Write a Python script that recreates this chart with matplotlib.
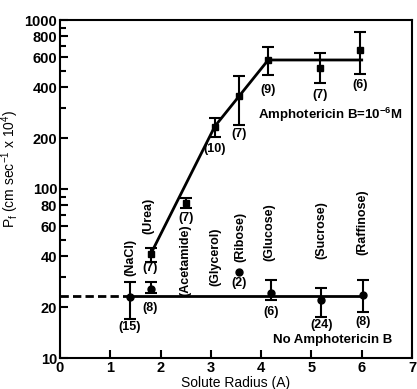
import numpy as np
import matplotlib
import matplotlib.pyplot as plt

matplotlib.rcParams['font.family'] = ['Liberation Sans', 'DejaVu Sans']
matplotlib.rcParams['font.weight'] = 'bold'
matplotlib.rcParams['font.size'] = 10
matplotlib.rcParams['mathtext.default'] = 'regular'

# ---------------- data ----------------
# Amphotericin B = 1e-6 M (squares)
amphX = [1.8, 2.5, 3.08, 3.56, 4.14, 5.17, 5.96]
amphY = [41, 83, 233, 355, 580, 520, 664]
amphLo = [37, 77, 203, 240, 473, 424, 479]
amphHi = [45, 89, 264, 467, 692, 638, 849]
amphN = ['(7)', '(7)', '(10)', '(7)', '(9)', '(7)', '(6)']
amphNY = [34, 67, 172, 213, 385, 358, 410]

# fitted curve through the amphotericin data
fitX = [1.8, 3.08, 4.14, 6.0]
fitY = [41, 235, 580, 580]

# no amphotericin (circles)
noneX = [1.39, 1.8, 4.2, 5.2, 6.02]
noneY = [23, 25.6, 24.3, 22, 23.6]
noneLo = [17, 24.3, 22, 17.5, 18.7]
noneHi = [28, 28, 28.9, 26, 28.9]
noneN = ['(15)', '(8)', '(6)', '(24)', '(8)']
noneNY = [15.2, 19.8, 18.7, 15.7, 16.3]

riboseX, riboseY = 3.56, 32.3
baseY = 23.2

# solute names
solutes = ['(NaCl)', '(Urea)', '(Acetamide)', '(Glycerol)', '(Ribose)',
           '(Glucose)', '(Sucrose)', '(Raffinose)']
soluteX = [1.4, 1.75, 2.49, 3.08, 3.58, 4.17, 5.2, 6.02]
soluteY = [39.5, 69, 38, 39.5, 52, 55.6, 57, 64]

# ---------------- plot ----------------
fig = plt.figure(figsize=(4.17, 3.89), dpi=100)
ax = fig.add_axes([60/417, 1-358/389, 352/417, 338/389])

k = 'black'
fs = 9
ax.plot(fitX, fitY, color=k, lw=2)
ax.errorbar(amphX, amphY,
            yerr=[np.subtract(amphY, amphLo), np.subtract(amphHi, amphY)],
            fmt='s', color=k, ms=5, capsize=4, elinewidth=1.5, capthick=1.5)

ax.plot([noneX[0], noneX[-1]], [baseY, baseY], color=k, lw=2)
ax.plot([0, noneX[0]], [baseY, baseY], color=k, lw=2, ls=(0, (3, 1.5)))
ax.errorbar(noneX, noneY,
            yerr=[np.subtract(noneY, noneLo), np.subtract(noneHi, noneY)],
            fmt='o', color=k, ms=5, capsize=4, elinewidth=1.5, capthick=1.5)
ax.plot(riboseX, riboseY, 'o', color=k, ms=5)
ax.text(riboseX, 27.8, '(2)', ha='center', va='center', fontsize=fs)

for x, y, s in zip(amphX, amphNY, amphN):
    ax.text(x, y, s, ha='center', va='center', fontsize=fs)
for x, y, s in zip(noneX, noneNY, noneN):
    ax.text(x, y, s, ha='center', va='center', fontsize=fs)
for x, y, s in zip(soluteX, soluteY, solutes):
    ax.text(x, y, s, ha='center', va='center', rotation=90, fontsize=fs)

ax.text(3.94, 275, 'Amphotericin B=10$^{-6}$M', ha='left', va='center', fontsize=9.5)
ax.text(4.23, 12.8, 'No Amphotericin B', ha='left', va='center', fontsize=9.5)

# graphic settings
ax.set_yscale('log')
ax.set_xlim(0, 7)
ax.set_ylim(10, 1000)
ax.set_xticks(range(8))
ax.set_xticklabels([str(i) for i in range(8)])
major = [10, 20, 40, 60, 80, 100, 200, 400, 600, 800, 1000]
ax.set_yticks(major)
ax.set_yticklabels([str(v) for v in major])
ax.set_yticks([30, 50, 70, 90, 300, 500, 700, 900], minor=True)
ax.tick_params(axis='both', which='major', direction='in', length=6, width=1.5,
               pad=2, labelsize=10.5)
ax.tick_params(axis='y', which='minor', direction='in', length=4, width=1.5)
ax.tick_params(axis='x', which='minor', bottom=False)
for sp in ax.spines.values():
    sp.set_linewidth(1.5)

ax.set_xlabel('Solute Radius (A)', labelpad=1)
ax.set_ylabel('P$_f$ (cm sec$^{-1}$ x 10$^4$)')
ax.yaxis.set_label_coords(-0.11, 0.56)

plt.savefig('out.png', dpi=100)
